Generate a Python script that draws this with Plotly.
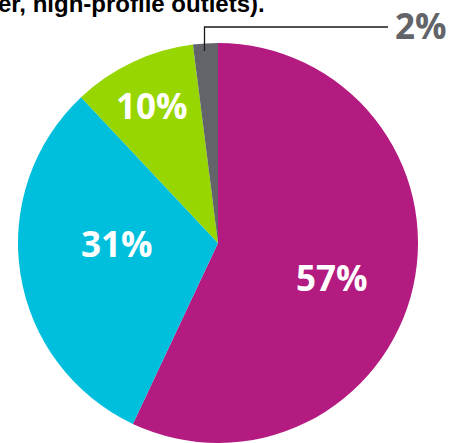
import plotly.graph_objects as go

# Share of coverage by outlet group
categories = ["Group A", "Group B", "Group C", "Group D"]
shares = [57, 31, 10, 2]
colors = ["#B31B81", "#00BFDD", "#97D600", "#636469"]

W, H = 456, 443
CX, CY, R = 218, 243, 200  # pie centre and radius in pixels


def px(x):
    return x / W


def py(y):
    return 1 - y / H


fig = go.Figure(
    go.Pie(
        labels=categories,
        values=shares,
        sort=False,
        direction="clockwise",
        rotation=0,
        marker=dict(colors=colors, line=dict(width=0)),
        textinfo="none",
        hoverinfo="label+percent",
        showlegend=False,
        domain=dict(x=[px(CX - R), px(CX + R)], y=[py(CY + R), py(CY - R)]),
    )
)

label_font = dict(family="Open Sans", size=35, color="white", weight="bold")

# white value labels inside the three large slices
inside_pos = [(332, 277), (117, 243), (152, 105)]
annotations = []
for val, (x, y) in zip(shares[:3], inside_pos):
    annotations.append(
        dict(x=px(x), y=py(y), xref="paper", yref="paper", text=f"{val}%",
             showarrow=False, xanchor="center", yanchor="middle", font=label_font)
    )

# outside label for the smallest slice
annotations.append(
    dict(x=px(421), y=py(25), xref="paper", yref="paper", text=f"{shares[3]}%",
         showarrow=False, xanchor="center", yanchor="middle",
         font=dict(family="Open Sans", size=35, color=colors[3], weight="bold"))
)

# heading tail
annotations.append(
    dict(x=px(267), y=py(4), xref="paper", yref="paper",
         text="er, high-profile outlets).", showarrow=False,
         xanchor="right", yanchor="middle",
         font=dict(family="Liberation Sans", size=24, color="black", weight="bold"))
)

# leader line to the small slice
fig.add_shape(type="path", xref="paper", yref="paper",
              path=f"M {px(204.5)} {py(51)} L {px(204.5)} {py(27)} L {px(388)} {py(27)}",
              line=dict(color="#1a1a1a", width=1.3))

fig.update_layout(
    width=W, height=H,
    margin=dict(l=0, r=0, t=0, b=0),
    paper_bgcolor="white",
    plot_bgcolor="white",
    annotations=annotations,
)

fig.write_html("out.html")
